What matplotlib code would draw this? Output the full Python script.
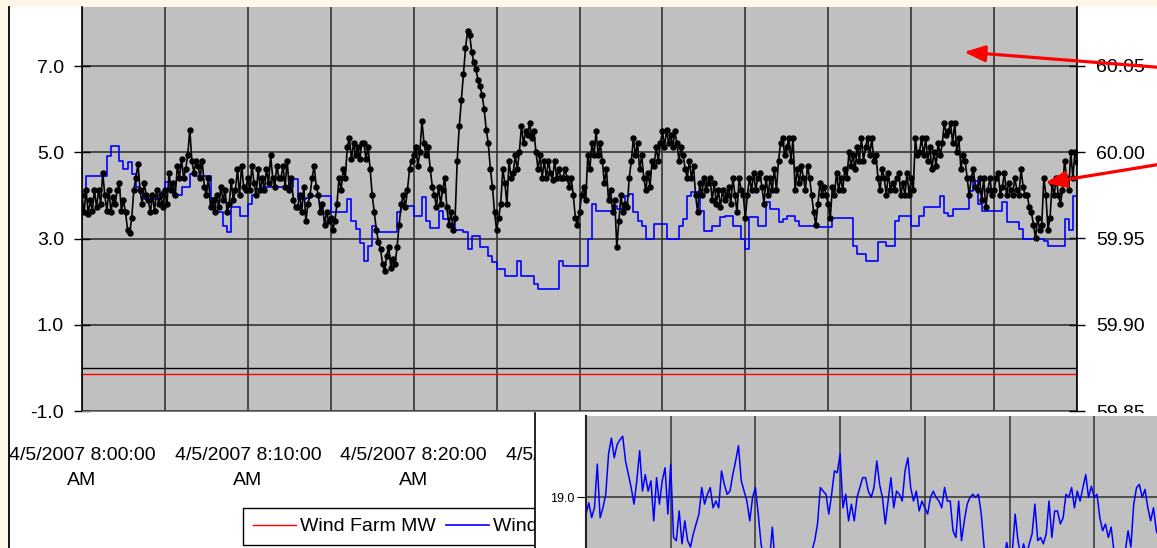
import matplotlib.pyplot as plt
import matplotlib.dates as mdates
import numpy as np
import pandas as pd
from matplotlib.lines import Line2D
from matplotlib.patches import Rectangle

plt.rcParams['font.family'] = ['Liberation Sans', 'DejaVu Sans']

# system frequency (Hz), one reading every 7.5 s from 8:00 to 9:00, one row per minute
freq_hz = [
    59.975, 59.965, 59.978, 59.964, 59.972, 59.966, 59.978, 59.968,
    59.978, 59.970, 59.988, 59.975, 59.966, 59.978, 59.965, 59.974,
    59.970, 59.978, 59.982, 59.966, 59.972, 59.965, 59.955, 59.953,
    59.962, 59.978, 59.985, 59.993, 59.978, 59.970, 59.982, 59.975,
    59.972, 59.965, 59.975, 59.966, 59.978, 59.970, 59.975, 59.968,
    59.978, 59.970, 59.988, 59.978, 59.982, 59.975, 59.992, 59.985,
    59.996, 59.985, 59.990, 59.998, 60.013, 59.995, 59.988, 59.995,
    59.992, 59.985, 59.995, 59.980, 59.975, 59.985, 59.968, 59.972,
    59.965, 59.975, 59.968, 59.980, 59.972, 59.978, 59.965, 59.970,
    59.983, 59.972, 59.978, 59.990, 59.975, 59.992, 59.980, 59.978,
    59.985, 59.978, 59.992, 59.982, 59.975, 59.990, 59.978, 59.985,
    59.978, 59.990, 59.982, 59.998, 59.985, 59.980, 59.992, 59.985,
    59.985, 59.992, 59.980, 59.995, 59.978, 59.985, 59.972, 59.968,
    59.968, 59.975, 59.965, 59.980, 59.960, 59.970, 59.975, 59.985,
    59.992, 59.980, 59.975, 59.965, 59.970, 59.958, 59.965, 59.960,
    59.962, 59.955, 59.960, 59.970, 59.985, 59.978, 59.990, 59.985,
    60.003, 60.008, 59.996, 60.005, 59.998, 60.003, 59.996, 60.005,
    60.005, 59.996, 60.003, 59.990, 59.975, 59.965, 59.955, 59.948,
    59.944, 59.935, 59.931, 59.940, 59.945, 59.933, 59.938, 59.935,
    59.945, 59.958, 59.970, 59.975, 59.968, 59.978, 59.990, 59.995,
    59.998, 60.003, 59.992, 60.000, 60.018, 60.005, 59.998, 60.003,
    59.990, 59.980, 59.975, 59.968, 59.980, 59.970, 59.978, 59.985,
    59.968, 59.958, 59.965, 59.955, 59.962, 59.995, 60.015, 60.030,
    60.045, 60.060, 60.070, 60.068, 60.058, 60.052, 60.048, 60.042,
    60.038, 60.033, 60.025, 60.013, 60.005, 59.990, 59.980, 59.965,
    59.955, 59.962, 59.970, 59.990, 59.982, 59.970, 59.995, 59.985,
    59.988, 59.998, 59.990, 60.000, 60.015, 60.005, 60.012, 60.010,
    60.017, 60.008, 60.012, 60.000, 59.990, 59.998, 59.985, 59.995,
    59.985, 59.995, 59.988, 59.984, 59.995, 59.985, 59.990, 59.985,
    59.985, 59.990, 59.985, 59.980, 59.985, 59.975, 59.962, 59.958,
    59.965, 59.975, 59.980, 59.972, 59.998, 59.990, 60.005, 59.998,
    60.012, 59.998, 60.005, 59.995, 59.982, 59.990, 59.972, 59.978,
    59.965, 59.972, 59.945, 59.960, 59.975, 59.965, 59.970, 59.968,
    59.985, 59.995, 60.008, 59.998, 60.005, 59.990, 59.998, 59.985,
    59.978, 59.988, 59.980, 59.995, 59.992, 60.003, 59.995, 60.005,
    60.012, 60.003, 60.013, 60.005, 60.010, 60.003, 60.012, 60.005,
    59.995, 60.003, 59.998, 59.990, 59.985, 59.995, 59.985, 59.992,
    59.975, 59.965, 59.982, 59.975, 59.985, 59.978, 59.982, 59.985,
    59.972, 59.982, 59.970, 59.978, 59.968, 59.978, 59.972, 59.975,
    59.980, 59.970, 59.985, 59.975, 59.965, 59.985, 59.978, 59.975,
    59.962, 59.975, 59.985, 59.978, 59.988, 59.978, 59.985, 59.988,
    59.980, 59.970, 59.985, 59.975, 59.985, 59.978, 59.990, 59.978,
    59.995, 60.005, 60.008, 59.998, 60.003, 60.008, 59.995, 60.008,
    59.978, 59.990, 59.982, 59.992, 59.985, 59.978, 59.992, 59.985,
    59.975, 59.965, 59.958, 59.970, 59.982, 59.975, 59.980, 59.975,
    59.970, 59.962, 59.980, 59.975, 59.988, 59.978, 59.985, 59.978,
    59.990, 59.985, 60.000, 59.992, 59.998, 59.990, 60.003, 59.995,
    60.008, 59.995, 60.003, 60.008, 59.998, 60.008, 59.995, 59.998,
    59.985, 59.978, 59.990, 59.985, 59.975, 59.988, 59.978, 59.982,
    59.978, 59.985, 59.988, 59.975, 59.982, 59.975, 59.988, 59.975,
    59.985, 59.978, 60.008, 59.998, 60.000, 60.008, 59.998, 60.008,
    59.995, 60.003, 59.990, 60.000, 59.992, 60.005, 59.998, 60.005,
    60.017, 60.010, 60.012, 60.017, 60.005, 60.017, 60.000, 60.008,
    59.990, 59.998, 59.995, 59.985, 59.975, 59.985, 59.990, 59.980,
    59.978, 59.985, 59.972, 59.985, 59.968, 59.978, 59.985, 59.975,
    59.978, 59.985, 59.988, 59.975, 59.980, 59.988, 59.975, 59.982,
    59.978, 59.975, 59.985, 59.978, 59.975, 59.990, 59.980, 59.975,
    59.975, 59.968, 59.965, 59.958, 59.950, 59.962, 59.955, 59.958,
    59.985, 59.975, 59.955, 59.962, 59.982, 59.975, 59.985, 59.975,
    59.970, 59.978, 59.995, 59.985, 59.978, 60.000, 59.985, 60.000,
    59.994,
]

# wind speed on the left scale, every 15 s
wind_speed = [
    4.10, 4.45, 4.45, 4.45,
    4.45, 4.45, 4.91, 5.14,
    5.14, 4.80, 4.61, 4.77,
    4.49, 4.20, 4.05, 3.91,
    3.91, 3.91, 3.91, 4.08,
    4.30, 4.14, 4.00, 4.00,
    4.20, 4.20, 4.49, 4.45,
    4.45, 4.45, 4.45, 3.95,
    3.61, 3.61, 3.29, 3.15,
    3.73, 3.73, 3.52, 3.52,
    3.80, 4.00, 4.14, 4.19,
    4.19, 4.19, 4.19, 4.19,
    4.19, 4.19, 4.19, 4.37,
    3.91, 3.91, 3.95, 3.98,
    3.98, 3.98, 3.98, 3.98,
    3.61, 3.61, 3.61, 3.61,
    3.91, 3.40, 3.22, 2.90,
    2.48, 2.83, 3.29, 3.15,
    3.15, 3.15, 3.15, 3.15,
    3.61, 3.75, 3.75, 3.75,
    3.52, 3.52, 3.96, 3.40,
    3.25, 3.25, 3.64, 3.45,
    3.45, 3.45, 3.20, 3.20,
    3.15, 2.76, 3.05, 3.05,
    2.80, 2.80, 2.60, 2.45,
    2.30, 2.30, 2.13, 2.13,
    2.13, 2.48, 2.13, 2.13,
    2.13, 1.95, 1.83, 1.83,
    1.83, 1.83, 1.83, 2.48,
    2.36, 2.36, 2.36, 2.36,
    2.36, 2.36, 3.00, 3.80,
    3.64, 3.64, 3.64, 3.64,
    3.75, 3.68, 3.68, 3.98,
    4.03, 3.61, 3.40, 3.29,
    3.00, 3.00, 3.33, 3.33,
    3.33, 3.00, 3.00, 3.00,
    3.29, 3.45, 3.98, 4.07,
    4.07, 3.64, 3.18, 3.18,
    3.29, 3.29, 3.50, 3.52,
    3.52, 3.29, 3.29, 3.00,
    2.75, 3.50, 3.50, 3.29,
    3.29, 3.84, 3.68, 3.68,
    3.38, 3.45, 3.52, 3.52,
    3.40, 3.29, 3.29, 3.29,
    3.29, 3.26, 3.26, 3.26,
    3.26, 3.47, 3.47, 3.47,
    3.47, 3.47, 2.83, 2.64,
    2.64, 2.48, 2.48, 2.48,
    2.92, 2.92, 2.83, 2.83,
    3.40, 3.52, 3.52, 3.52,
    3.29, 3.29, 3.52, 3.73,
    3.73, 3.73, 3.73, 3.98,
    3.60, 3.52, 3.68, 3.68,
    3.68, 3.68, 4.10, 4.33,
    3.80, 3.64, 3.64, 3.64,
    3.64, 3.64, 3.84, 3.38,
    3.38, 3.38, 3.22, 3.00,
    3.00, 3.00, 3.00, 3.00,
    2.95, 2.83, 2.83, 2.83,
    2.83, 3.45, 3.20, 3.98,
    3.98,
]

# wind farm output, every 10 minutes
farm_mw = [-0.14, -0.14, -0.14, -0.14, -0.14, -0.14, -0.14]

# wind speed trace of the lower panel, every 10 s
panel_speed = [
    18.62, 18.87, 18.54, 18.76, 19.73, 18.54,
    18.76, 19.06, 19.96, 20.31, 19.87, 20.16,
    20.27, 20.35, 19.80, 19.50, 19.21, 18.84,
    19.36, 20.03, 19.13, 19.50, 19.13, 19.36,
    18.47, 19.43, 18.84, 19.36, 19.65, 18.62,
    19.73, 18.10, 18.03, 18.69, 17.96, 18.47,
    18.03, 17.89, 18.18, 18.40, 18.62, 19.21,
    18.84, 19.06, 19.21, 18.76, 18.91, 18.76,
    19.58, 19.28, 19.06, 19.13, 19.50, 19.80,
    20.14, 19.36, 19.13, 18.91, 18.47, 18.99,
    19.21, 18.62, 17.96, 17.60, 17.50, 17.60,
    18.33, 17.50, 17.40, 17.30, 17.40, 17.50,
    17.30, 17.40, 17.50, 17.40, 17.60, 17.50,
    17.60, 17.70, 17.80, 18.03, 18.40, 19.21,
    19.13, 19.06, 18.62, 19.06, 19.58, 19.54,
    19.96, 18.76, 19.06, 18.47, 18.84, 18.47,
    18.99, 19.21, 19.43, 19.43, 19.13, 18.99,
    19.21, 19.80, 19.28, 18.99, 18.40, 18.91,
    19.43, 18.76, 19.13, 19.06, 18.91, 19.58,
    19.87, 19.21, 18.91, 19.13, 18.69, 18.91,
    18.76, 18.62, 18.99, 19.13, 18.99, 18.91,
    18.76, 19.21, 18.91, 18.91, 18.25, 18.10,
    18.91, 18.03, 18.47, 18.84, 18.99, 19.06,
    18.99, 19.06, 18.62, 17.89, 17.60, 17.40,
    17.30, 17.40, 17.50, 17.40, 17.60, 17.99,
    17.70, 17.80, 18.62, 18.03, 17.70, 17.96,
    17.70, 17.96, 18.18, 18.84, 18.03, 18.10,
    17.96, 18.18, 18.91, 18.10, 18.69, 18.69,
    18.40, 18.54, 19.06, 18.99, 19.21, 18.76,
    19.13, 18.91, 19.21, 19.50, 18.99, 19.24,
    18.99, 19.06, 18.54, 18.25, 18.40, 18.10,
    18.33, 17.80, 17.60, 17.50, 17.60, 17.80,
    18.25, 17.89, 18.84, 19.21, 19.28, 18.99,
    19.17, 18.76, 18.47, 18.76, 18.25, 18.10,
]

left_ticks = [-1.0, 1.0, 3.0, 5.0, 7.0]
right_ticks = [59.85, 59.90, 59.95, 60.00, 60.05]

start = pd.Timestamp('2007-04-05 08:00:00')
t_freq = pd.date_range(start, periods=len(freq_hz), freq='7500ms')
t_wind = pd.date_range(start, periods=len(wind_speed), freq='15s')
t_farm = pd.date_range(start, periods=len(farm_mw), freq='10min')
panel_t = np.arange(len(panel_speed)) / 6.0

W, H = 1157, 548
GRID = '#333333'
GRAY = '#C0C0C0'


def box(x0, y0, x1, y1):
    # pixel box (top-left origin) -> figure fraction rect
    return [x0 / W, 1 - y1 / H, (x1 - x0) / W, (y1 - y0) / H]


fig = plt.figure(figsize=(W / 100, H / 100), dpi=100, facecolor='#FCF7E6')

# white chart area with black left edge
fig.add_artist(Rectangle((8 / W, 0), 1, 1 - 7 / H, transform=fig.transFigure,
                         facecolor='white', edgecolor='none', zorder=-2))
fig.add_artist(Line2D([8.5 / W, 8.5 / W], [0, 1 - 7 / H], transform=fig.transFigure,
                      color='black', lw=1.3, zorder=-1))

# main chart
ax = fig.add_axes(box(82, 7, 1077, 411))
ax.set_facecolor(GRAY)
red, = ax.plot(t_farm, farm_mw, color='#FF0000', lw=1.0)
blue, = ax.plot(t_wind, wind_speed, color='#0000FF', lw=1.2, drawstyle='steps-post')
ax.axhline(0, color='black', lw=1.0, zorder=1)

ax.set_xlim(t_wind[0], t_wind[-1])
ax.set_ylim(-1, 8.37)
ax.set_yticks(left_ticks)
ax.yaxis.set_major_formatter(plt.FormatStrFormatter('%.1f'))
ax.xaxis.set_major_locator(mdates.MinuteLocator(byminute=range(0, 60, 10)))
ax.xaxis.set_minor_locator(mdates.MinuteLocator(byminute=range(5, 60, 10)))
ax.xaxis.set_major_formatter(mdates.DateFormatter('%-m/%-d/%Y %-I:%M:%S\n%p'))
ax.grid(which='both', axis='x', color=GRID, lw=1.2)
ax.grid(which='major', axis='y', color=GRID, lw=1.2)
ax.tick_params(axis='x', which='both', length=0, labelsize=14, pad=26)
ax.tick_params(axis='y', direction='inout', length=12, width=1, labelsize=14, pad=7)
plt.setp(ax.get_xticklabels(), linespacing=1.6)
ax.spines['top'].set_visible(False)
ax.spines['right'].set_visible(False)
ax.spines['left'].set_color('black')
ax.spines['left'].set_linewidth(1.2)
ax.spines['bottom'].set_color('#808080')

ax2 = ax.twinx()
black, = ax2.plot(t_freq, freq_hz, color='black', lw=1.2, marker='o', ms=3.6)
ax2.set_ylim(59.85, 60.084)
ax2.set_yticks(right_ticks)
ax2.yaxis.set_major_formatter(plt.FormatStrFormatter('%.2f'))
ax2.tick_params(axis='y', direction='inout', length=12, width=1, labelsize=14, pad=8)
for side in ('top', 'left', 'bottom'):
    ax2.spines[side].set_visible(False)
ax2.spines['right'].set_color('black')
ax2.spines['right'].set_linewidth(1.2)

ax.legend([red, blue, black], ['Wind Farm MW', 'Wind Speed', 'Frequency'],
          loc='upper left', bbox_to_anchor=(243 / W, 1 - 508 / H),
          bbox_transform=fig.transFigure, ncol=3, fontsize=14, frameon=True,
          fancybox=False, edgecolor='black', framealpha=1, borderaxespad=0,
          borderpad=0.5, handlelength=2.2, handletextpad=0.25, columnspacing=0.5)
ax.get_legend().get_frame().set_linewidth(1.0)
ax.get_legend()._legend_box.align = 'left'

# red call-out arrows
for tail, head in [((1180, H - 69), (964, H - 52)), ((1180, H - 161), (1045, H - 183))]:
    ax2.annotate('', xy=head, xytext=tail, xycoords='figure pixels',
                 textcoords='figure pixels', annotation_clip=False,
                 arrowprops=dict(arrowstyle='-|>,head_length=0.9,head_width=0.35',
                                 color='#FF0000', lw=2.3, mutation_scale=14,
                                 shrinkA=0, shrinkB=0))

# lower-right panel
pan = fig.add_axes(box(535, 413, 1157, 548), zorder=5)
pan.set_facecolor('white')
pan.set_xticks([])
pan.set_yticks([])
for side in ('top', 'right', 'bottom'):
    pan.spines[side].set_visible(False)
pan.spines['left'].set_color('black')
pan.spines['left'].set_linewidth(1.2)

ins = fig.add_axes(box(586, 416, 586 + 677.6, 416 + 270), zorder=6)
ins.set_facecolor(GRAY)
ins.plot(panel_t, panel_speed, color='#0000FF', lw=1.1)
ins.set_xlim(0, 40)
ins.set_ylim(14.8, 20.8)
ins.set_xticks(np.arange(0, 41, 5))
ins.set_xticklabels([])
ins.set_yticks([19.0])
ins.yaxis.set_major_formatter(plt.FormatStrFormatter('%.1f'))
ins.tick_params(axis='x', length=0)
ins.tick_params(axis='y', direction='out', length=6.5, labelsize=9, pad=1.5)
ins.grid(color=GRID, lw=1.1)
for side in ('top', 'right', 'bottom'):
    ins.spines[side].set_visible(False)
ins.spines['left'].set_color('#222222')
ins.spines['left'].set_linewidth(1.5)

fig.savefig('out.png', dpi=100, facecolor=fig.get_facecolor())
